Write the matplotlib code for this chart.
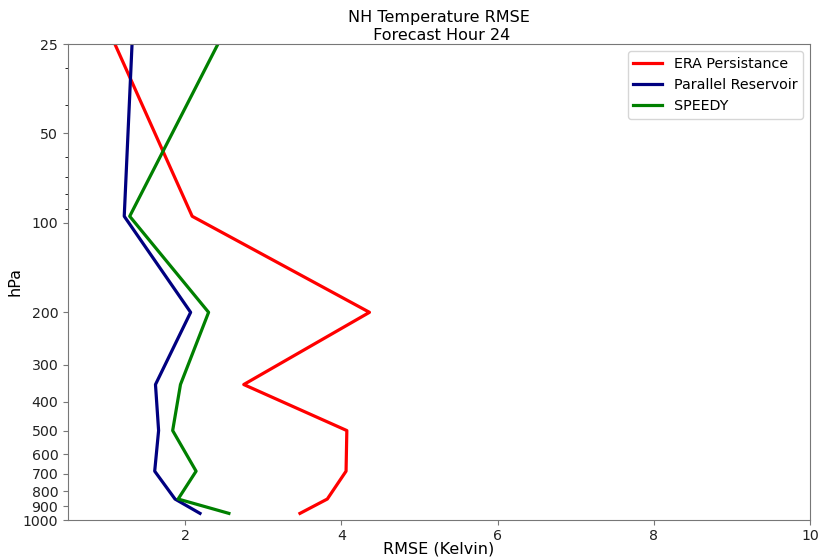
import matplotlib
matplotlib.use("Agg")
import matplotlib.pyplot as plt
from matplotlib.ticker import FixedLocator, FixedFormatter, NullFormatter

levels = [25, 95, 200, 350, 500, 685, 850, 950]
era = [1.10, 2.09, 4.36, 2.75, 4.07, 4.06, 3.82, 3.47]
reservoir = [1.32, 1.22, 2.07, 1.62, 1.66, 1.61, 1.87, 2.19]
speedy = [2.42, 1.29, 2.30, 1.94, 1.84, 2.14, 1.91, 2.56]
yticks = [25, 50, 100, 200, 300, 400, 500, 600, 700, 800, 900, 1000]
xticks = [2, 4, 6, 8, 10]

fig = plt.figure(figsize=(8.21, 5.59), dpi=100)
ax = fig.add_axes([68/821, 1-520/559, (810-68)/821, (520-44)/559])
ax.plot(era, levels, color='red', lw=2.3, label='ERA Persistance')
ax.plot(reservoir, levels, color='navy', lw=2.3, label='Parallel Reservoir')
ax.plot(speedy, levels, color='green', lw=2.3, label='SPEEDY')
ax.set_yscale('log')
ax.set_ylim(1000, 25)
ax.set_xlim(0.5, 10)
ax.yaxis.set_major_locator(FixedLocator(yticks))
ax.yaxis.set_major_formatter(FixedFormatter([str(t) for t in yticks]))
ax.yaxis.set_minor_formatter(NullFormatter())
ax.set_xticks(xticks)
ax.tick_params(labelsize=10.2, colors='#222222')
ax.tick_params(axis='both', color='#777777')
ax.tick_params(axis='x', pad=3)
for s in ax.spines.values():
    s.set_color('#777777')
ax.set_xlabel('RMSE (Kelvin)', fontsize=11.5, labelpad=-1)
ax.set_ylabel('hPa', fontsize=11.5, labelpad=0)
ax.set_title('NH Temperature RMSE\n Forecast Hour 24', fontsize=11.5, pad=3)
ax.legend(loc='upper right', fontsize=10.3)
fig.savefig('out.png', dpi=100)
